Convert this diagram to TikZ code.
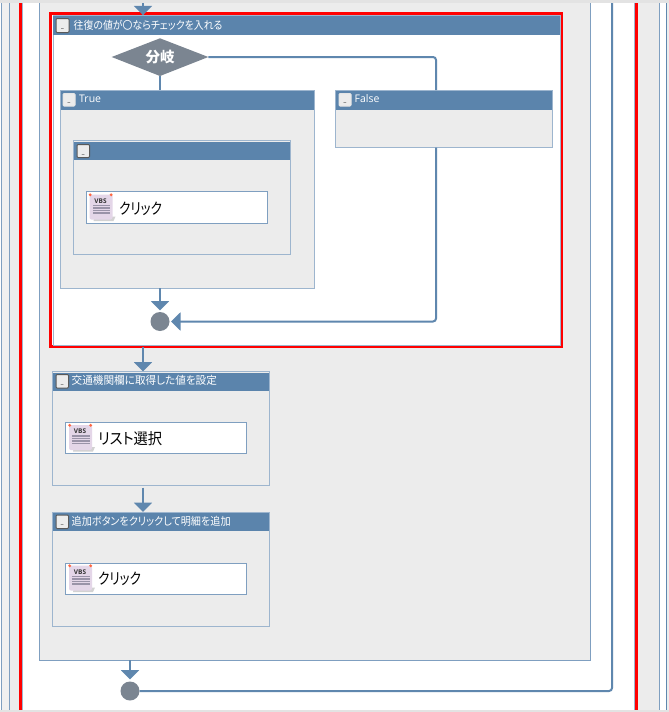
\documentclass[tikz,border=0pt]{standalone}
\usepackage{fontspec}
\setmainfont{Open Sans}
\newfontfamily\jpfont[RawFeature=+palt]{Noto Sans CJK JP}
\newfontfamily\jpnarrow[RawFeature=+palt,FakeStretch=0.9]{Noto Sans CJK JP}
\newfontfamily\jpadd[RawFeature=+palt,FakeStretch=0.92]{Noto Sans CJK JP}
\newfontfamily\jpkanji[RawFeature=+palt,FakeStretch=0.965]{Noto Sans CJK JP}
\newfontfamily\jpclick[RawFeature=+palt,FakeStretch=0.81]{Noto Sans CJK JP}
\newfontfamily\jplist[RawFeature=+palt,FakeStretch=0.92]{Noto Sans CJK JP}
\usetikzlibrary{arrows.meta}
\definecolor{hdr}{HTML}{5B84AC}
\definecolor{pgrey}{HTML}{ECECEC}
\definecolor{pedge}{HTML}{9DB5CE}
\definecolor{aedge}{HTML}{7F9FC0}
\definecolor{conn}{HTML}{5F87AE}
\definecolor{gate}{HTML}{7B8591}
\definecolor{scroll}{HTML}{E4D6E8}
\definecolor{vbsline}{HTML}{9A93A8}
\tikzset{
  x=1pt,y=-1pt,
  box/.style={anchor=north west,inner sep=0pt,outer sep=0pt,rectangle},
  panel/.style={box,draw=pedge,line width=1pt,fill=pgrey},
  header/.style={box,fill=hdr},
  btn/.style={box,draw=#1,line width=1pt,fill=pgrey,rounded corners=1pt},
  btn/.default={gray!70!black},
  btnchar/.style={inner sep=0pt,yshift=-3.5pt,font=\fontsize{6}{6}\selectfont},
  htitle/.style={anchor=west,inner sep=0pt,text=white,font=\fontsize{11}{11}\selectfont},
  ltitle/.style={anchor=west,inner sep=0pt,text=white,font=\fontsize{10.5}{11}\selectfont},
  act/.style={box,draw=aedge,line width=1pt,fill=white},
  acttext/.style={anchor=west,inner sep=0pt,text=black,font=\fontsize{15.5}{16}\selectfont},
  conline/.style={draw=conn,line width=2pt},
  arr/.style={conline,-{Triangle[width=18pt,length=9.5pt]}},
  endcircle/.style={circle,fill=gate,inner sep=0pt,outer sep=0pt,minimum size=19pt},
  vbs/.pic={
    \fill[gray!35] (5,22) -- (26,22) -- (24,26.5) -- (4,26.5) -- cycle;
    \fill[scroll,rounded corners=2pt] (0,0) rectangle (23,25);
    \node[inner sep=0pt,text=black!80,font=\bfseries\fontsize{6.5}{6.5}\selectfont] at (11,6.3) {VBS};
    \foreach \yy in {10,12.6,15.2,17.8}{\fill[vbsline] (3,\yy) rectangle (20.5,\yy+1.5);}
    \fill[red!60!orange!75] (.7,.3) circle (1.6);
    \fill[red!60!orange!75] (21.7,.3) circle (1.6);
  }
}
\newcommand{\hdrpanel}[6]{% name, x, y, w, h, hdr-offset
  \node[panel,minimum width=#4pt,minimum height=#5pt] (#1) at (#2,#3) {};
  \node[header,minimum width=#4pt-1pt,minimum height=18.5pt] (#1h) at (#2+.5,#3+#6) {};
}
\begin{document}
\begin{tikzpicture}
\useasboundingbox (0,0) rectangle (669,712);
\fill[white] (0,0) rectangle (669,712);
% outer strips
\fill[pgrey!80!white] (2,3) rectangle (9,710);
\fill[pgrey] (10,3) rectangle (19.2,710);
\fill[pgrey] (638,3) rectangle (659,710);
\fill[pgrey] (667,3) rectangle (669,710);
\draw[aedge,line width=1pt] (1.5,3) -- (1.5,710);
\draw[aedge,line width=1pt] (9.5,3) -- (9.5,710);
\draw[aedge,line width=1pt] (659.5,3) -- (659.5,710);
\draw[conn,line width=1pt] (666.5,3) -- (666.5,710);
\draw[pedge,line width=1pt] (22.5,3) -- (22.5,710);
\draw[pedge,line width=1pt] (634.7,3) -- (634.7,710);
\fill[red] (19.2,3) rectangle (22,710);
\fill[red] (635,3) rectangle (637.8,710);

% main grey panel (its top runs under the top strip)
\node[panel,draw=aedge,minimum width=550.5pt,minimum height=660pt] (main) at (39.5,0) {};
\fill[gray!22] (0,0) rectangle (669,3);
\fill[gray!22] (0,710) rectangle (669,712);

% red box
\node[box,draw=red,line width=3pt,fill=white,minimum width=510.5pt,minimum height=333pt] (redbox) at (50.8,13.8) {};
\node[box,draw=pedge,line width=1pt,minimum width=507pt,minimum height=329.5pt] (redin) at (53,15.5) {};
\node[header,minimum width=507pt,minimum height=19pt] (redh) at (53,15.5) {};
\node[btn,minimum width=13pt,minimum height=14pt] (redb) at (56,18.5) {};
\node[btnchar] at (redb.center) {\_};
\node[htitle] (redt) at (73.5,25.5) {\jpnarrow 往復の値が〇ならチェックを入れる};

\coordinate (colT) at (160,0);
\coordinate (colF) at (436,0);
\coordinate (colA) at (143,0);
\coordinate (colE) at (130,0);
\coordinate (colR) at (612,0);
\coordinate (topline) at (0,3);

% panels
\hdrpanel{truep}{60}{90}{254.5}{198}{1}
\node[btn=white!80!gray,minimum width=12pt,minimum height=12.5pt] (trueb) at (63,93.5) {};
\node[btnchar] at (trueb.center) {\_};
\node[ltitle] (truet) at (79,99) {True};

\hdrpanel{falsep}{335.5}{90}{217}{57.5}{1}
\node[btn=white!80!gray,minimum width=12pt,minimum height=12.5pt] (falseb) at (339,93.5) {};
\node[btnchar] at (falseb.center) {\_};
\node[ltitle] (falset) at (354.5,99) {False};

\hdrpanel{innerp}{73}{140.5}{217}{114}{1}
\node[btn,minimum width=12.5pt,minimum height=13pt] (innerb) at (77,144.5) {};
\node[btnchar] at (innerb.center) {\_};
\node[act,minimum width=181.5pt,minimum height=31.5pt] (clicka) at (86.2,191.5) {};
\pic at (89.5,194.5) {vbs};
\node[acttext] (clickat) at (119,208.5) {\jpclick クリック};

\node[endcircle] (joinc) at (160,321.5) {};

% diamond
\coordinate (dL) at (111.7,57);
\coordinate (dR) at (208.3,57);
\coordinate (dT) at (160,38.3);
\coordinate (dB) at (160,76);
\fill[gate] (dL) -- (dT) -- (dR) -- (dB) -- cycle;
\node[inner sep=0pt,text=white,font=\jpfont\bfseries\fontsize{14.5}{15}\selectfont] (bunki) at (160,57.5) {分岐};

% panels below
\hdrpanel{listp}{52.5}{371.5}{217}{114}{1.2}
\node[btn,minimum width=12.5pt,minimum height=13.5pt] (listb) at (56,374.5) {};
\node[btnchar] at (listb.center) {\_};
\node[htitle] (listt) at (71.5,380.5) {\jpkanji 交通機関欄に取得した値を設定};
\node[act,minimum width=181pt,minimum height=31.5pt] (lista) at (65.5,422.3) {};
\pic at (69,425) {vbs};
\node[acttext] (listat) at (98,438.8) {\jplist リスト選択};

\hdrpanel{addp}{52.5}{512}{217}{114}{.8}
\node[btn,minimum width=12.5pt,minimum height=13.5pt] (addb) at (56,515) {};
\node[btnchar] at (addb.center) {\_};
\node[htitle] (addt) at (71.5,521) {\jpadd 追加ボタンをクリックして明細を追加};
\node[act,minimum width=181pt,minimum height=31.5pt] (adda) at (65.5,563) {};
\pic at (69,565.5) {vbs};
\node[acttext] (addat) at (98,579.3) {\jpclick クリック};

\node[endcircle] (endc) at (130,691) {};

% connectors
\draw[conline] (dB) -- (truep.north -| dB);
\draw[conline,rounded corners=3pt] (dR) -- (dR -| colF) -- (falsep.north -| colF);
\draw[conline,rounded corners=3pt,arrows={-{Triangle[width=18pt,length=9.5pt]}}] (falsep.south -| colF) -- (joinc.east -| colF) -- ([xshift=1.5pt]joinc.east);
\draw[arr] (truep.south -| joinc) -- ([yshift=1.5pt]joinc.north);
\draw[arr] (topline -| colA) -- ([yshift=-1.5pt]redbox.north -| colA);
\draw[arr] ([yshift=-.5pt]redbox.south -| colA) -- (listp.north -| colA);
\draw[arr] ([yshift=-2pt]listp.south -| colA) -- (addp.north -| colA);
\draw[arr] (main.south -| colE) -- ([yshift=2pt]endc.north);
\draw[conline,rounded corners=3pt] (endc.east) -- (endc.east -| colR) -- (topline -| colR);
\end{tikzpicture}
\end{document}
